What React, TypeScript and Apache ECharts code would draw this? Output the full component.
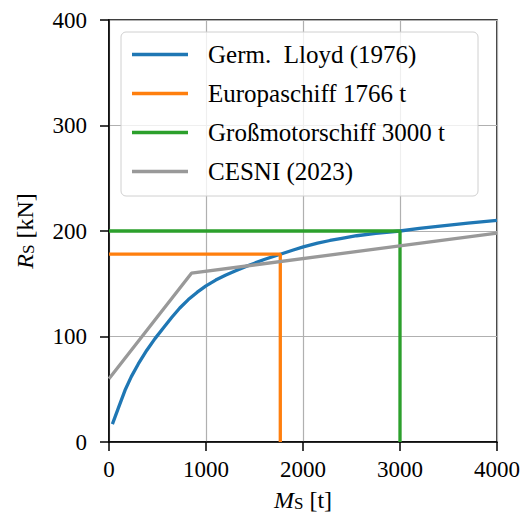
import React, { useEffect, useRef } from "react";
import * as echarts from "echarts";

const lloydData: [number, number][] = [
  [35, 17], [100, 33], [165, 49], [230, 62], [302, 74], [390, 87], [474, 98],
  [560, 108], [646, 118], [730, 127], [818, 135], [910, 142], [1000, 148],
  [1100, 153.5], [1200, 158], [1300, 162], [1400, 166], [1500, 169.5], [1600, 173],
  [1766, 178], [1900, 182], [2003, 185], [2150, 188.5], [2278, 191], [2400, 193],
  [2553, 195.5], [2750, 197.8], [3000, 200], [3200, 202.5], [3412, 204.7],
  [3700, 207.5], [4000, 210],
];
const europaData: [number, number][] = [[0, 178], [1766, 178], [1766, 0]];
const gmsData: [number, number][] = [[0, 200], [3000, 200], [3000, 0]];
const cesniData: [number, number][] = [[0, 60], [850, 160], [4000, 198]];

const seriesNames = ["Germ.  Lloyd (1976)", "Europaschiff 1766 t", "Großmotorschiff 3000 t", "CESNI (2023)"];
const seriesColors = ["#1f77b4", "#ff7f0e", "#2ca02c", "#999999"];
const xTicks = [0, 1000, 2000, 3000, 4000];
const yTicks = [0, 100, 200, 300, 400];

const FONT = "'Liberation Serif', serif";

export default function App() {
  const ref = useRef<HTMLDivElement>(null);
  useEffect(() => {
    if (!ref.current) return;
    const chart = echarts.init(ref.current, undefined, { renderer: "svg" });
    const datasets = [lloydData, europaData, gmsData, cesniData];
    const nameStyle = {
      fontFamily: FONT, fontSize: 24, color: "#000",
      rich: {
        it: { fontFamily: FONT, fontSize: 24, fontStyle: "italic", color: "#000" },
        sub: { fontFamily: FONT, fontSize: 17, color: "#000", padding: [8, 0, 0, 0] },
      },
    };
    chart.setOption({
      animation: false,
      backgroundColor: "#ffffff",
      textStyle: { fontFamily: FONT },
      grid: {
        left: 109, right: 23, top: 20, bottom: 78,
        outerBoundsMode: "none",
        containLabel: false,
        show: true, borderColor: "#000", borderWidth: 1.5, backgroundColor: "transparent",
      },
      legend: {
        orient: "vertical",
        left: 121, top: 32,
        icon: "rect",
        itemWidth: 56, itemHeight: 3.3, itemGap: 14,
        padding: [10, 33, 12, 11],
        backgroundColor: "rgba(255,255,255,0.8)",
        borderColor: "#d0d0d0", borderWidth: 1, borderRadius: 5,
        textStyle: { fontFamily: FONT, fontSize: 25, color: "#000", padding: [0, 0, 0, 15] },
        data: seriesNames,
      },
      xAxis: {
        type: "value", min: xTicks[0], max: xTicks[xTicks.length - 1], interval: 1000,
        name: "{it|M}{sub|S} [t]", nameLocation: "middle", nameGap: 45,
        nameTextStyle: nameStyle,
        axisLine: { show: true, lineStyle: { color: "#000", width: 1.5 } },
        axisTick: { show: true, length: 9, lineStyle: { color: "#000", width: 1.5 } },
        axisLabel: { fontFamily: FONT, fontSize: 23, color: "#000", margin: 16, formatter: (v: number) => String(v) },
        splitLine: { show: true, lineStyle: { color: "#b0b0b0", width: 1.2 } },
      },
      yAxis: {
        type: "value", min: yTicks[0], max: yTicks[yTicks.length - 1], interval: 100,
        name: "{it|R}{sub|S} [kN]", nameLocation: "middle", nameGap: 72,
        nameTextStyle: nameStyle,
        axisLine: { show: true, lineStyle: { color: "#000", width: 1.5 } },
        axisTick: { show: true, length: 9, lineStyle: { color: "#000", width: 1.5 } },
        axisLabel: { fontFamily: FONT, fontSize: 23, color: "#000", margin: 22, formatter: (v: number) => String(v) },
        splitLine: { show: true, lineStyle: { color: "#b0b0b0", width: 1.2 } },
      },
      series: datasets.map((d, i) => ({
        name: seriesNames[i],
        type: "line",
        data: d,
        smooth: false,
        symbol: "none",
        color: seriesColors[i],
        lineStyle: { color: seriesColors[i], width: 3.3 },
        itemStyle: { color: seriesColors[i] },
        z: 2 + i,
      })),
    });
    return () => chart.dispose();
  }, []);
  return <div ref={ref} style={{ position: "fixed", left: 0, top: 0, width: 520, height: 520 }} />;
}
